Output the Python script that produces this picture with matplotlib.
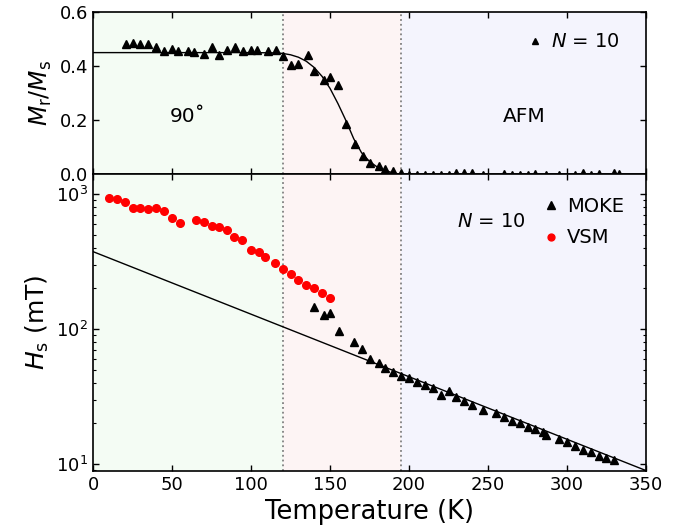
import matplotlib
matplotlib.use("Agg")
import matplotlib.pyplot as plt

plt.rcParams['font.family'] = ['DejaVu Sans']
plt.rcParams['mathtext.fontset'] = 'dejavusans'

# regions (K)
t_90 = 120
t_afm = 195
t_max = 350

# top panel: Mr/Ms from MOKE
mr_T = [21, 25, 30, 35, 40, 45, 50, 54, 60, 64, 70, 75, 80, 85, 90, 95, 100, 104,
        111, 116, 120, 125, 130, 136, 140, 146, 150, 155, 160, 166, 171, 175, 181,
        185, 190, 195, 200, 205, 210, 215, 220, 225, 230, 235, 240, 247, 260, 265,
        270, 275, 280, 287, 295, 305, 310, 315, 320, 330, 333]
mr_val = [0.481, 0.484, 0.481, 0.481, 0.470, 0.456, 0.465, 0.457, 0.457, 0.453,
          0.445, 0.469, 0.440, 0.460, 0.470, 0.457, 0.461, 0.460, 0.457, 0.460,
          0.437, 0.406, 0.407, 0.442, 0.382, 0.348, 0.360, 0.330, 0.186, 0.111,
          0.070, 0.043, 0.031, 0.021, 0.012, 0.005, -0.002, -0.002, -0.002, -0.001,
          -0.001, -0.003, 0.006, 0.005, 0.004, -0.003, 0.001, -0.003, -0.002,
          -0.002, 0.002, -0.003, -0.003, -0.003, 0.006, -0.003, 0.001, 0.007, 0.002]

# fitted curve
mrfit_T = [0, 100, 115, 120, 125, 130, 135, 140, 145, 150, 155, 160, 165, 170,
           175, 180, 185, 190, 195]
mrfit_val = [0.45, 0.45, 0.449, 0.447, 0.442, 0.433, 0.418, 0.395, 0.362, 0.318,
             0.262, 0.200, 0.132, 0.080, 0.048, 0.027, 0.014, 0.006, 0.0]

# bottom panel: saturation field
moke_T = [140, 146, 150, 156, 165, 170, 175, 181, 185, 190, 195, 200, 205, 210,
          215, 220, 225, 230, 235, 240, 247, 255, 260, 265, 270, 275, 280, 285,
          287, 295, 300, 305, 310, 315, 320, 325, 330]
moke_H = [145, 126, 131, 97, 80.5, 70.8, 60, 55.7, 51.4, 48.3, 45.1, 43.1, 40.7,
          38.5, 36.6, 32.5, 34.7, 31.2, 29.3, 27.4, 25.1, 23.7, 22.2, 20.9, 20.0,
          18.9, 18.1, 17.3, 16.4, 15.2, 14.6, 13.6, 12.8, 12.3, 11.5, 11.1, 10.7]

vsm_T = [10, 15, 20, 25, 30, 35, 40, 45, 50, 55, 65, 70, 75, 80, 85, 89, 94, 100,
         105, 109, 115, 120, 125, 130, 135, 140, 145, 150]
vsm_H = [929, 914, 868, 792, 784, 774, 784, 748, 661, 612, 641, 624, 582, 566,
         538, 483, 456, 386, 370, 340, 310, 278, 254, 231, 212, 202, 184, 171]

hfit_T = [0, 350]
hfit_H = [374, 8.94]

fig = plt.figure(figsize=(6.81, 5.30), dpi=100)
ax1 = fig.add_axes([0.1366, 0.6708, 0.812, 0.3066])
ax2 = fig.add_axes([0.1366, 0.1119, 0.812, 0.5589])

for ax in (ax1, ax2):
    ax.axvspan(0, t_90, color='#f4fcf4', lw=0, zorder=0)
    ax.axvspan(t_90, t_afm, color='#fdf4f4', lw=0, zorder=0)
    ax.axvspan(t_afm, t_max, color='#f4f4fd', lw=0, zorder=0)
    for t in (t_90, t_afm):
        ax.axvline(t, color='#808080', ls=':', lw=1.3, zorder=1)
    ax.set_xlim(0, t_max)
    ax.tick_params(direction='in', top=True, right=True, labelsize=13,
                   length=4.5, width=1)
    ax.tick_params(which='minor', direction='in', right=True, length=2.5, width=0.8)
    for s in ax.spines.values():
        s.set_linewidth(1.2)

ax1.plot(mrfit_T, mrfit_val, color='black', lw=1, zorder=2)
ax1.plot(mr_T, mr_val, '^', color='black', ms=6, ls='none', zorder=3,
         label='$N$ = 10')
ax1.set_ylim(0, 0.6)
ax1.set_yticks([0.0, 0.2, 0.4, 0.6])
ax1.set_ylabel('$M_\\mathrm{r}/M_\\mathrm{s}$', fontsize=17)
ax1.tick_params(labelbottom=False)
ax1.text(60, 0.215, '90˚', fontsize=14.5, ha='center', va='center')
ax1.text(273, 0.215, 'AFM', fontsize=14.5, ha='center', va='center')
ax1.legend(loc='upper right', bbox_to_anchor=(0.984, 0.982), frameon=False,
           fontsize=14, markerscale=0.7, handlelength=0.8, handletextpad=0.4,
           borderaxespad=0.5)

ax2.plot(hfit_T, hfit_H, color='black', lw=1, zorder=2)
ax2.plot(moke_T, moke_H, '^', color='black', ms=6, ls='none', zorder=3,
         label='MOKE')
ax2.plot(vsm_T, vsm_H, 'o', color='#ff0000', ms=5.5, ls='none', zorder=3,
         label='VSM')
ax2.set_yscale('log')
ax2.set_ylim(8.92, 1394)
ax2.set_xticks(range(0, 351, 50))
ax2.set_xlabel('Temperature (K)', fontsize=18.5)
ax2.set_ylabel('$H_\\mathrm{s}$ (mT)', fontsize=18)
ax2.text(0.72, 0.84, '$N$ = 10', transform=ax2.transAxes, fontsize=14,
         ha='center', va='center')
ax2.legend(loc='upper right', frameon=False, fontsize=14, markerscale=0.9,
           handlelength=0.8, handletextpad=0.4, borderaxespad=0.75,
           labelspacing=0.65)

fig.align_ylabels([ax1, ax2])
fig.savefig('out.png', dpi=100)
